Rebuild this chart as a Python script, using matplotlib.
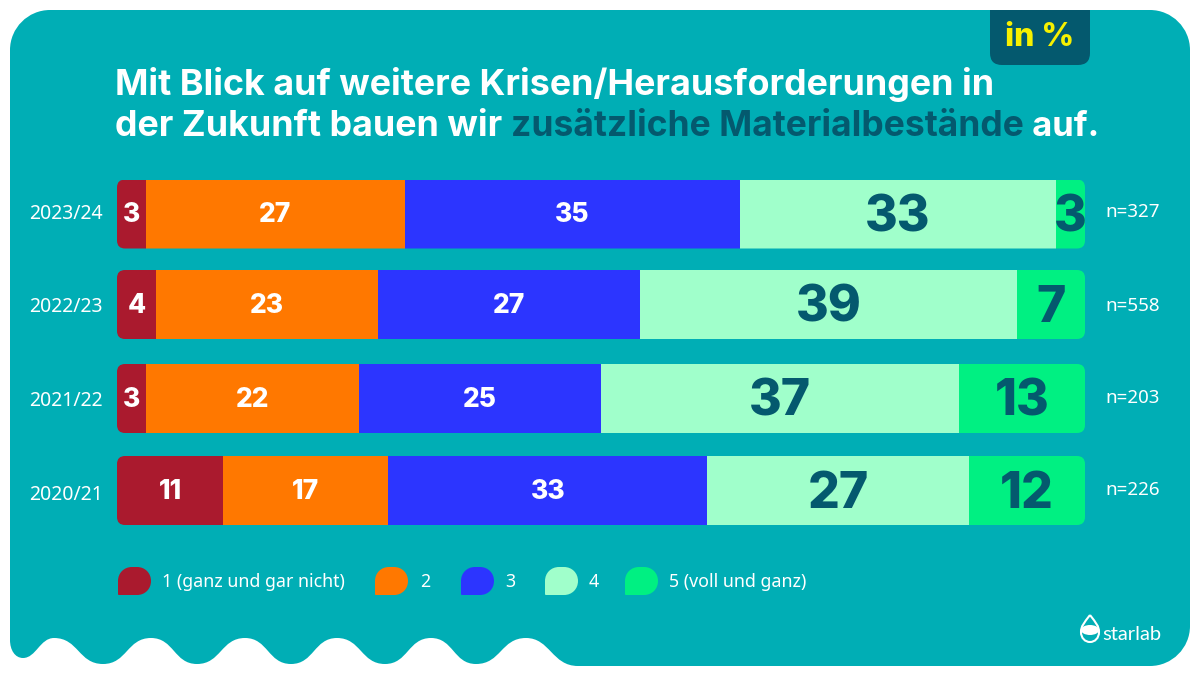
import matplotlib
matplotlib.use("Agg")
import matplotlib.pyplot as plt
from matplotlib.patches import FancyBboxPatch, PathPatch, Rectangle, Ellipse
from matplotlib.path import Path

# data
years = ["2023/24", "2022/23", "2021/22", "2020/21"]
counts = ["n=327", "n=558", "n=203", "n=226"]
answers = ["1 (ganz und gar nicht)", "2", "3", "4", "5 (voll und ganz)"]
val_1 = [3, 4, 3, 11]
val_2 = [27, 23, 22, 17]
val_3 = [35, 27, 25, 33]
val_4 = [33, 39, 37, 27]
val_5 = [3, 7, 13, 12]

# colours and layout
TEAL = "#00aeb5"
DARK = "#04596e"
YELLOW = "#f7f000"
COLORS = ["#aa1a2e", "#ff7800", "#2c35ff", "#a0ffcb", "#00f082"]
TEXT_COLORS = ["white", "white", "white", DARK, DARK]
TEXT_SIZES = [19, 19, 19, 36, 36]
TEXT_SHIFT = [1.5, 1.5, 1.5, 3.5, 3.5]
ROW_Y = [214, 304.5, 398.5, 490.5]
YEAR_Y = [214, 307, 401, 495]
COUNT_Y = [212, 306, 398, 490]
ROW_H = 69
BAR_LEFT, BAR_RIGHT = 117, 1085
KEY_X = [118, 375, 461, 545, 625]
LABEL_X = [162, 420, 505, 589, 669]
HEAD = "Inter"
BODY = "Noto Sans"

fig = plt.figure(figsize=(12, 6.75), dpi=100, facecolor="white")
panel = fig.add_axes([0, 0, 1, 1])
panel.set_xlim(0, 1200)
panel.set_ylim(675, 0)
panel.axis("off")


def wave_outline():
    crests = [54, 151, 245, 337, 431, 526]
    troughs = [103, 197, 291, 385, 476]
    top, low = 638, 664
    verts = [(50, 10)]
    codes = [Path.MOVETO]
    verts += [(1150, 10), (1172, 10), (1190, 28), (1190, 50)]
    codes += [Path.LINETO, Path.CURVE4, Path.CURVE4, Path.CURVE4]
    verts += [(1190, 626), (1190, 648), (1172, 666), (1150, 666), (578, 666)]
    codes += [Path.LINETO, Path.CURVE4, Path.CURVE4, Path.CURVE4, Path.LINETO]
    # bottom edge goes right to left
    verts += [(552, 666), (550, 638), (crests[-1], top)]
    codes += [Path.CURVE4] * 3
    seq = []
    for k in range(len(troughs) - 1, -1, -1):
        seq += [(troughs[k], low), (crests[k], top)]
    prev = crests[-1]
    for x, y in seq:
        mid = (prev + x) / 2
        py = top if y == low else low
        verts += [(mid, py), (mid, y), (x, y)]
        codes += [Path.CURVE4] * 3
        prev = x
    verts += [(40, 638), (36, 658), (23, 658), (15, 658), (10, 650), (10, 640), (10, 50), (10, 28), (28, 10), (50, 10)]
    codes += [Path.CURVE4] * 6 + [Path.LINETO] + [Path.CURVE4] * 3
    return Path(verts, codes)


def key_shape(x, y, w, h):
    # rounded square with a nearly sharp lower left corner
    r = 14
    c = 6
    verts = [(x + 1, y + h), (x, y + h), (x, y + h - 1), (x, y + r),
             (x, y + c), (x + c, y), (x + r, y),
             (x + w - r, y), (x + w - c, y), (x + w, y + c), (x + w, y + r),
             (x + w, y + h - r), (x + w, y + h - c), (x + w - c, y + h), (x + w - r, y + h),
             (x + 1, y + h)]
    codes = [Path.MOVETO, Path.CURVE3, Path.CURVE3, Path.LINETO,
             Path.CURVE4, Path.CURVE4, Path.CURVE4,
             Path.LINETO, Path.CURVE4, Path.CURVE4, Path.CURVE4,
             Path.LINETO, Path.CURVE4, Path.CURVE4, Path.CURVE4,
             Path.LINETO]
    return Path(verts, codes)


panel.add_patch(PathPatch(wave_outline(), fc=TEAL, ec="none"))

# "in %" tab
panel.add_patch(FancyBboxPatch((990, -30), 100, 95, boxstyle="round,pad=0,rounding_size=12",
                               fc=DARK, ec="none", clip_on=True))
panel.add_patch(Rectangle((0, 0), 1200, 10, fc="white", ec="none"))
panel.text(1040, 38, "in %", color=YELLOW, fontsize=23, fontweight=800, family=HEAD,
           ha="center", va="center")

# title, second line has a coloured part so pieces are chained
panel.text(115, 95, "Mit Blick auf weitere Krisen/Herausforderungen in", color="white",
           fontsize=25.8, fontweight="bold", family=HEAD)
x_pos = 115
renderer = fig.canvas.get_renderer()
for piece, col, size in [("der Zukunft bauen wir ", "white", 25.8),
                         ("zusätzliche Materialbestände", DARK, 25.5),
                         (" auf.", "white", 25)]:
    t = panel.text(x_pos, 136, piece.replace(" ", "\u00a0"), color=col, fontsize=size, fontweight="bold", family=HEAD)
    x_pos = t.get_window_extent(renderer).x1

# bars axis shares pixel heights with the panel, x is percent
bars = fig.add_axes([BAR_LEFT / 1200, 0, (BAR_RIGHT - BAR_LEFT) / 1200, 1])
bars.set_xlim(0, 100)
bars.set_ylim(675, 0)
bars.axis("off")
bars.patch.set_alpha(0)

series = [val_1, val_2, val_3, val_4, val_5]
for i, y in enumerate(ROW_Y):
    total = sum(s[i] for s in series)
    clip = FancyBboxPatch((BAR_LEFT, y - ROW_H / 2), BAR_RIGHT - BAR_LEFT, ROW_H,
                          boxstyle="round,pad=0,rounding_size=8", transform=panel.transData)
    left = 0
    for s, col, tcol, size, dy in zip(series, COLORS, TEXT_COLORS, TEXT_SIZES, TEXT_SHIFT):
        # rows do not always add to 100 because of rounding
        w = s[i] / total * 100
        rect = bars.barh(y, w, left=left, height=ROW_H, color=col, linewidth=0)[0]
        rect.set_clip_path(clip)
        bars.text(left + w / 2, y + dy, str(s[i]), color=tcol, fontsize=size, fontweight=800,
                  family=HEAD, ha="center", va="center")
        left += w
    panel.text(103, YEAR_Y[i], years[i], color="white", fontsize=14, fontweight=300, family=BODY,
               ha="right", va="center")
    panel.text(1105, COUNT_Y[i], counts[i], color="white", fontsize=13.5, fontweight=300, family=BODY,
               ha="left", va="center")

# legend
for lab, col, kx, lx in zip(answers, COLORS, KEY_X, LABEL_X):
    panel.add_patch(PathPatch(key_shape(kx, 567, 33, 28), fc=col, ec="none"))
    panel.text(lx, 582, lab, color="white", fontsize=12.8, family=BODY, ha="left", va="center")

# starlab logo
drop = Path([(1090, 615), (1084, 623), (1081, 626), (1081, 632), (1081, 638), (1085, 642), (1090, 642),
             (1095, 642), (1099, 638), (1099, 632), (1099, 626), (1096, 623), (1090, 615)],
            [Path.MOVETO] + [Path.CURVE4] * 12)
panel.add_patch(PathPatch(drop, fc="none", ec="white", lw=1.5))
panel.add_patch(Ellipse((1090, 630), 18, 10, fc="white", ec="none"))
panel.text(1102, 640, "starlab", color="white", fontsize=14.5, family="Lato")

fig.savefig("out.png", dpi=100)
